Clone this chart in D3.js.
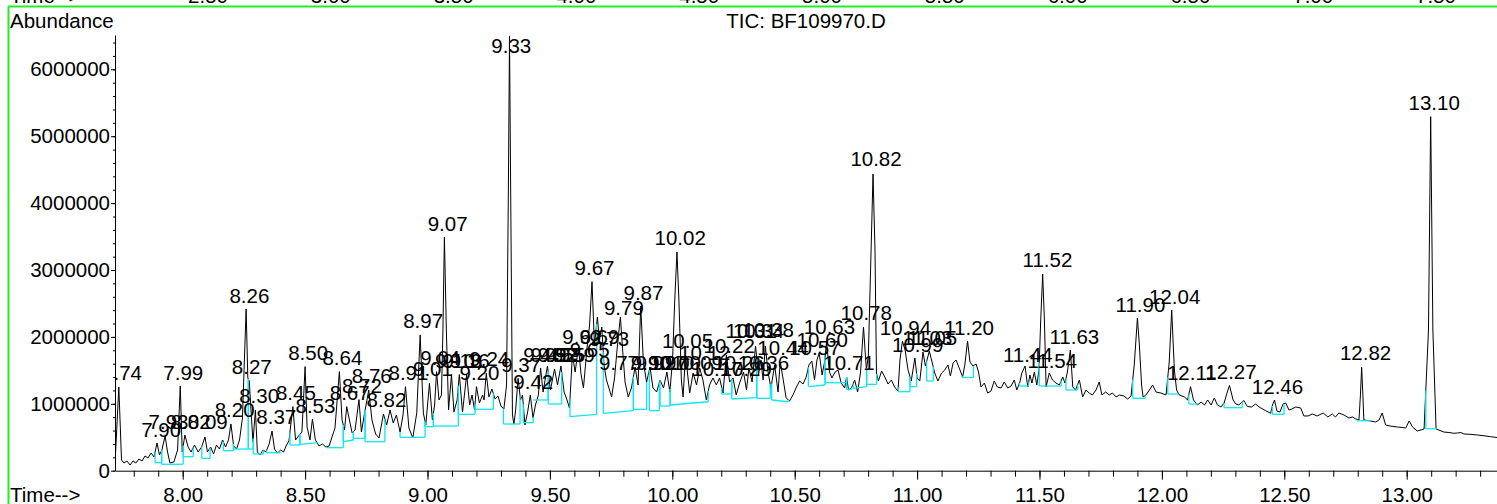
<!DOCTYPE html>
<html>
<head>
<meta charset="utf-8">
<script src="https://cdn.jsdelivr.net/npm/d3@7"></script>
<style>
  body { margin: 0; background: #fff; }
  svg text { font-family: "Liberation Sans", Arial, sans-serif; }
</style>
</head>
<body>
<svg id="chart" width="1497" height="504"></svg>
<script>
const width = 1497;
const height = 504;
const fontSize = 20.5;

const title = "TIC: BF109970.D";

// axis ticks
const yTicks = [0, 1000000, 2000000, 3000000, 4000000, 5000000, 6000000];
const xTicks = [8.0, 8.5, 9.0, 9.5, 10.0, 10.5, 11.0, 11.5, 12.0, 12.5, 13.0];
// tick labels of the panel above, cut off at the top edge
const prevPanelTicks = [2.5, 3.0, 3.5, 4.0, 4.5, 5.0, 5.5, 6.0, 6.5, 7.0, 7.5];

// TIC trace: [minutes, abundance in millions]
const trace = [[7.726,0.280],[7.739,1.251],[7.750,0.160],[7.760,0.115],[7.772,0.145],[7.785,0.085],[7.797,0.145],[7.809,0.115],[7.821,0.175],[7.834,0.145],[7.846,0.220],[7.858,0.190],[7.871,0.265],[7.883,0.205],[7.895,0.414],[7.905,0.235],[7.915,0.309],[7.928,0.519],[7.938,0.280],[7.948,0.115],[7.964,0.130],[7.979,0.309],[7.990,1.266],[7.998,0.280],[8.009,0.534],[8.022,0.354],[8.034,0.280],[8.048,0.384],[8.063,0.280],[8.077,0.354],[8.091,0.504],[8.101,0.280],[8.114,0.354],[8.126,0.250],[8.138,0.384],[8.150,0.324],[8.163,0.459],[8.175,0.354],[8.187,0.459],[8.197,0.698],[8.208,0.369],[8.220,0.324],[8.232,0.459],[8.244,0.788],[8.252,1.655],[8.259,2.417],[8.266,1.386],[8.272,1.341],[8.279,0.907],[8.287,0.429],[8.297,0.907],[8.305,0.280],[8.316,0.235],[8.328,0.309],[8.340,0.280],[8.353,0.399],[8.365,0.593],[8.375,0.324],[8.387,0.265],[8.400,0.309],[8.412,0.280],[8.424,0.384],[8.434,0.444],[8.450,0.958],[8.461,0.459],[8.473,0.519],[8.487,0.578],[8.500,1.556],[8.508,0.653],[8.520,0.459],[8.530,0.773],[8.542,0.459],[8.557,0.369],[8.571,0.399],[8.585,0.354],[8.598,0.369],[8.610,0.504],[8.622,0.638],[8.640,1.481],[8.651,0.758],[8.661,0.608],[8.670,0.958],[8.681,0.758],[8.692,0.564],[8.704,0.608],[8.720,1.063],[8.730,0.578],[8.743,0.862],[8.760,1.206],[8.773,0.758],[8.788,0.549],[8.802,0.489],[8.820,0.848],[8.833,0.683],[8.847,0.907],[8.860,0.713],[8.873,0.833],[8.888,0.578],[8.900,0.833],[8.910,1.257],[8.924,0.638],[8.940,0.489],[8.956,0.862],[8.970,2.028],[8.983,0.862],[8.993,0.683],[9.008,1.306],[9.020,0.758],[9.029,0.982],[9.037,1.481],[9.047,1.057],[9.057,1.132],[9.063,2.103],[9.069,3.493],[9.077,2.103],[9.086,0.907],[9.098,1.437],[9.108,0.877],[9.121,1.057],[9.130,1.437],[9.143,0.877],[9.153,1.206],[9.160,1.437],[9.172,0.982],[9.182,1.132],[9.192,0.907],[9.200,1.257],[9.212,1.012],[9.225,1.132],[9.231,1.057],[9.240,1.456],[9.251,1.102],[9.263,1.221],[9.276,1.072],[9.288,1.117],[9.300,0.967],[9.312,0.922],[9.323,1.281],[9.330,4.046],[9.335,6.500],[9.340,4.046],[9.347,0.833],[9.353,0.698],[9.360,0.907],[9.370,1.381],[9.380,1.057],[9.388,1.132],[9.398,0.683],[9.409,0.877],[9.420,1.132],[9.431,0.788],[9.441,0.982],[9.453,1.132],[9.462,1.535],[9.472,1.176],[9.490,1.565],[9.502,1.206],[9.519,1.520],[9.531,1.281],[9.545,1.565],[9.558,1.176],[9.570,1.057],[9.580,0.937],[9.592,1.744],[9.603,1.475],[9.617,1.849],[9.627,1.445],[9.637,1.236],[9.652,1.849],[9.662,2.178],[9.672,2.825],[9.682,1.879],[9.694,2.298],[9.702,1.954],[9.712,2.148],[9.721,1.580],[9.731,1.356],[9.741,1.236],[9.752,1.102],[9.764,1.386],[9.776,1.879],[9.788,2.298],[9.797,1.804],[9.807,1.326],[9.820,1.102],[9.833,1.236],[9.848,1.550],[9.860,1.281],[9.871,2.462],[9.882,1.610],[9.895,1.326],[9.909,1.550],[9.921,1.236],[9.936,1.176],[9.950,1.356],[9.964,1.236],[9.978,1.475],[9.990,1.176],[10.001,1.655],[10.010,2.552],[10.019,3.269],[10.027,2.552],[10.037,1.356],[10.044,1.102],[10.054,1.729],[10.071,1.161],[10.085,1.460],[10.099,1.281],[10.112,1.535],[10.125,1.356],[10.139,1.057],[10.152,1.281],[10.166,1.386],[10.180,1.281],[10.193,1.386],[10.207,1.161],[10.221,1.729],[10.234,1.326],[10.248,1.386],[10.261,1.132],[10.275,1.311],[10.291,1.475],[10.303,1.206],[10.313,1.535],[10.326,1.326],[10.340,1.864],[10.352,1.431],[10.362,1.655],[10.371,1.356],[10.380,1.864],[10.391,1.475],[10.403,1.236],[10.418,1.580],[10.432,1.176],[10.441,1.625],[10.452,1.386],[10.465,1.087],[10.479,1.042],[10.493,1.132],[10.507,1.251],[10.520,1.341],[10.534,1.296],[10.547,1.401],[10.558,1.580],[10.570,1.640],[10.581,1.356],[10.591,1.655],[10.600,1.759],[10.612,1.431],[10.622,1.625],[10.630,1.924],[10.642,1.475],[10.652,1.386],[10.665,1.475],[10.677,1.505],[10.690,1.311],[10.704,1.236],[10.712,1.401],[10.720,1.206],[10.732,1.236],[10.745,1.356],[10.757,1.176],[10.769,1.475],[10.781,2.148],[10.793,1.505],[10.801,1.729],[10.812,3.299],[10.820,4.435],[10.828,3.299],[10.834,1.460],[10.842,1.341],[10.855,1.490],[10.868,1.401],[10.881,1.296],[10.895,1.356],[10.908,1.251],[10.922,1.191],[10.930,1.655],[10.940,1.939],[10.951,1.804],[10.963,1.505],[10.976,1.341],[10.991,1.685],[11.000,1.386],[11.011,1.341],[11.024,1.774],[11.034,1.565],[11.050,1.789],[11.061,1.625],[11.072,1.460],[11.085,1.341],[11.100,1.460],[11.113,1.505],[11.126,1.580],[11.136,1.416],[11.147,1.610],[11.159,1.655],[11.172,1.535],[11.186,1.401],[11.195,1.580],[11.206,1.939],[11.216,1.625],[11.228,1.565],[11.241,1.595],[11.251,1.475],[11.261,1.251],[11.275,1.311],[11.288,1.161],[11.302,1.191],[11.315,1.341],[11.328,1.251],[11.343,1.236],[11.356,1.326],[11.370,1.236],[11.384,1.266],[11.397,1.356],[11.407,1.206],[11.420,1.326],[11.428,1.460],[11.441,1.565],[11.452,1.251],[11.461,1.431],[11.469,1.311],[11.479,1.475],[11.489,1.281],[11.498,1.505],[11.505,2.253],[11.513,2.940],[11.520,2.253],[11.527,1.251],[11.540,1.460],[11.553,1.356],[11.567,1.311],[11.581,1.281],[11.595,1.401],[11.604,1.311],[11.614,1.475],[11.626,1.804],[11.636,1.251],[11.647,1.206],[11.663,1.356],[11.676,1.102],[11.690,1.206],[11.703,1.161],[11.716,1.132],[11.731,1.206],[11.744,1.326],[11.755,1.132],[11.770,1.176],[11.785,1.132],[11.798,1.161],[11.813,1.102],[11.827,1.132],[11.845,1.117],[11.860,1.072],[11.874,1.117],[11.887,1.580],[11.900,2.283],[11.908,1.879],[11.917,1.281],[11.923,1.102],[11.935,1.132],[11.949,1.206],[11.962,1.281],[11.976,1.176],[11.996,1.161],[12.017,1.132],[12.030,1.625],[12.040,2.402],[12.051,1.505],[12.060,1.206],[12.071,1.132],[12.092,1.102],[12.105,1.057],[12.117,1.257],[12.129,1.057],[12.146,0.982],[12.160,1.027],[12.174,0.982],[12.187,1.057],[12.201,0.982],[12.214,1.087],[12.227,0.982],[12.241,0.952],[12.254,1.012],[12.266,1.161],[12.276,1.274],[12.291,1.057],[12.302,0.997],[12.314,0.982],[12.335,1.049],[12.349,0.960],[12.366,0.952],[12.383,0.997],[12.397,0.952],[12.424,0.897],[12.444,0.858],[12.452,0.982],[12.460,1.057],[12.470,0.892],[12.482,0.877],[12.495,0.997],[12.506,1.012],[12.519,0.907],[12.531,0.922],[12.547,0.952],[12.567,0.937],[12.580,0.818],[12.597,0.818],[12.614,0.848],[12.634,0.818],[12.659,0.862],[12.678,0.803],[12.696,0.848],[12.709,0.803],[12.723,0.862],[12.744,0.833],[12.764,0.788],[12.779,0.803],[12.792,0.773],[12.805,0.758],[12.811,1.132],[12.816,1.546],[12.821,1.132],[12.825,0.758],[12.853,0.743],[12.873,0.728],[12.887,0.758],[12.900,0.862],[12.914,0.683],[12.932,0.668],[12.962,0.653],[12.981,0.646],[12.996,0.638],[13.010,0.743],[13.024,0.653],[13.043,0.593],[13.071,0.623],[13.089,2.103],[13.098,5.293],[13.107,2.103],[13.120,0.623],[13.136,0.601],[13.152,0.578],[13.173,0.571],[13.193,0.559],[13.208,0.564],[13.221,0.571],[13.234,0.549],[13.259,0.544],[13.288,0.534],[13.316,0.522],[13.343,0.508],[13.369,0.496]];

// integrated peaks: retention time and apex height (millions)
const peakTimes = [7.74,7.90,7.93,7.99,8.02,8.09,8.20,8.26,8.27,8.30,8.37,8.45,8.50,8.53,8.64,8.67,8.72,8.76,8.82,8.91,8.97,9.01,9.04,9.07,9.10,9.13,9.16,9.20,9.24,9.33,9.37,9.42,9.46,9.49,9.52,9.55,9.59,9.62,9.65,9.67,9.69,9.73,9.77,9.79,9.87,9.90,9.92,9.97,10.00,10.02,10.05,10.09,10.12,10.17,10.22,10.26,10.29,10.31,10.34,10.36,10.38,10.44,10.57,10.60,10.63,10.71,10.78,10.82,10.94,10.99,11.03,11.05,11.20,11.44,11.52,11.54,11.63,11.90,12.04,12.11,12.27,12.46,12.82,13.10];
const peakHeights = [1.25,0.41,0.53,1.26,0.53,0.53,0.71,2.41,1.34,0.92,0.60,0.96,1.56,0.77,1.48,0.96,1.06,1.21,0.85,1.26,2.03,1.31,1.48,3.49,1.44,1.44,1.44,1.26,1.46,6.50,1.38,1.13,1.53,1.53,1.53,1.53,1.53,1.80,1.60,2.83,1.80,1.77,1.41,2.23,2.45,1.41,1.41,1.41,1.41,3.27,1.73,1.41,1.55,1.31,1.66,1.41,1.31,1.88,1.88,1.41,1.90,1.63,1.63,1.75,1.95,1.41,2.15,4.45,1.93,1.68,1.78,1.78,1.93,1.53,2.94,1.43,1.80,2.28,2.40,1.26,1.27,1.05,1.55,5.29];

// integration baselines: [start time, start level, end time, end level] (millions)
const baselines = [[7.887,0.120,7.914,0.120],[7.914,0.096,8.002,0.096],[8.002,0.209,8.043,0.209],[8.078,0.185,8.112,0.185],[8.166,0.299,8.207,0.299],[8.207,0.324,8.268,0.324],[8.268,0.324,8.288,0.324],[8.288,0.250,8.329,0.250],[8.343,0.269,8.397,0.269],[8.438,0.384,8.479,0.384],[8.479,0.395,8.554,0.419],[8.588,0.344,8.656,0.344],[8.656,0.433,8.697,0.459],[8.697,0.484,8.745,0.484],[8.745,0.433,8.826,0.433],[8.888,0.499,8.990,0.499],[8.990,0.658,9.024,0.658],[9.024,0.668,9.126,0.668],[9.126,0.843,9.194,0.843],[9.194,0.918,9.269,0.918],[9.310,0.698,9.378,0.698],[9.391,0.718,9.432,0.718],[9.432,1.057,9.493,1.057],[9.493,0.997,9.548,0.997],[9.582,0.807,9.691,0.843],[9.718,0.858,9.841,0.897],[9.841,0.918,9.895,0.918],[9.906,0.897,9.947,0.897],[9.950,0.967,9.991,0.967],[9.991,0.982,10.147,1.031],[10.202,1.147,10.243,1.147],[10.243,1.072,10.345,1.091],[10.345,1.082,10.400,1.082],[10.406,1.057,10.474,1.031],[10.556,1.256,10.624,1.281],[10.624,1.315,10.712,1.315],[10.712,1.217,10.733,1.217],[10.739,1.232,10.794,1.256],[10.794,1.291,10.835,1.291],[10.923,1.181,10.971,1.181],[10.971,1.256,10.998,1.256],[11.039,1.341,11.066,1.341],[11.184,1.393,11.230,1.393],[11.418,1.266,11.456,1.266],[11.499,1.266,11.588,1.266],[11.608,1.206,11.656,1.206],[11.881,1.082,11.932,1.082],[12.024,1.147,12.069,1.147],[12.110,0.997,12.150,0.997],[12.254,0.942,12.328,0.942],[12.451,0.843,12.499,0.843],[12.798,0.747,12.853,0.747],[13.078,0.628,13.123,0.628]];

const svg = d3.select("#chart");

const x = d3.scaleLinear().domain([7.7234, 13.3689]).range([115, 1497]);
const y = d3.scaleLinear().domain([0, 6513000]).range([470.7, 35]);
const M = 1e6;

// frame of the report page
const green = "#22ee22";
svg.append("line").attr("x1", 8).attr("x2", width).attr("y1", 6.5).attr("y2", 6.5)
  .attr("stroke", green).attr("stroke-width", 2);
svg.append("line").attr("x1", 8.5).attr("x2", 8.5).attr("y1", 6.5).attr("y2", height)
  .attr("stroke", green).attr("stroke-width", 2);

// bits of the panel above that are cut off by the top edge
const prevX = d3.scaleLinear().domain([2.5, 7.5]).range([208, 1436]);
svg.append("text").attr("x", 10).attr("y", 3).attr("font-size", fontSize).text("Time-->");
svg.append("g").selectAll("text").data(prevPanelTicks).join("text")
  .attr("x", d => prevX(d)).attr("y", 3).attr("text-anchor", "middle")
  .attr("font-size", fontSize).text(d => d3.format(".2f")(d));

svg.append("text").attr("x", 10).attr("y", 28).attr("font-size", fontSize).text("Abundance");
svg.append("text").attr("x", 806).attr("y", 28).attr("font-size", fontSize)
  .attr("text-anchor", "middle").text(title);
svg.append("text").attr("x", 10).attr("y", 502).attr("font-size", fontSize).text("Time-->");

// axes
const xMinor = d3.range(7.8, 13.35, 0.1).map(d => Math.round(d * 10) / 10);
svg.append("g").attr("transform", "translate(0,470.7)")
  .call(d3.axisBottom(x).tickValues(xMinor).tickSize(6).tickSizeOuter(0).tickFormat(""))
  .call(g => g.select(".domain").attr("stroke", "#000"));
svg.append("g").attr("transform", "translate(0,470.7)")
  .call(d3.axisBottom(x).tickValues(xTicks).tickSize(9).tickPadding(8).tickSizeOuter(0)
    .tickFormat(d3.format(".2f")))
  .call(g => g.select(".domain").remove())
  .call(g => g.selectAll("text").attr("font-size", fontSize)
    .attr("font-family", "Liberation Sans, Arial, sans-serif").attr("fill", "#000"));

const yMinor = d3.range(0, 6500001, 200000);
svg.append("g").attr("transform", "translate(115,0)")
  .call(d3.axisLeft(y).tickValues(yMinor).tickSize(2).tickSizeOuter(0).tickFormat(""))
  .call(g => g.select(".domain").attr("stroke", "#000"));
svg.append("g").attr("transform", "translate(115,0)")
  .call(d3.axisLeft(y).tickValues(yTicks).tickSize(4).tickPadding(1).tickSizeOuter(0)
    .tickFormat(d3.format("d")))
  .call(g => g.select(".domain").remove())
  .call(g => g.selectAll("text").attr("font-size", fontSize)
    .attr("font-family", "Liberation Sans, Arial, sans-serif").attr("fill", "#000"));

// plot area clip
svg.append("clipPath").attr("id", "plot")
  .append("rect").attr("x", 116).attr("y", 0).attr("width", width - 116).attr("height", 471);

const plot = svg.append("g").attr("clip-path", "url(#plot)");

plot.append("path")
  .datum(trace)
  .attr("fill", "none")
  .attr("stroke", "#000")
  .attr("stroke-width", 1)
  .attr("stroke-linejoin", "round")
  .attr("d", d3.line().x(d => x(d[0])).y(d => y(d[1] * M)));

// signal level at a given time, for the drop lines
const bis = d3.bisector(d => d[0]).left;
function signalAt(t) {
  const i = Math.max(1, Math.min(trace.length - 1, bis(trace, t)));
  const a = trace[i - 1], b = trace[i];
  const f = (t - a[0]) / (b[0] - a[0]);
  return a[1] + f * (b[1] - a[1]);
}

const cyan = "#10e6ee";
plot.append("g").selectAll("line").data(baselines).join("line")
  .attr("x1", d => x(d[0])).attr("y1", d => y(d[1] * M))
  .attr("x2", d => x(d[2])).attr("y2", d => y(d[3] * M))
  .attr("stroke", cyan).attr("stroke-width", 1.3);

const drops = baselines.flatMap(d => [[d[0], d[1]], [d[2], d[3]]])
  .map(([t, b]) => [t, b, Math.max(b, signalAt(t))]);
plot.append("g").selectAll("line").data(drops).join("line")
  .attr("x1", d => x(d[0])).attr("x2", d => x(d[0]))
  .attr("y1", d => y(d[1] * M)).attr("y2", d => y(d[2] * M))
  .attr("stroke", cyan).attr("stroke-width", 1.3);

// retention time labels
plot.append("g").selectAll("text").data(peakTimes).join("text")
  .attr("x", d => x(d) + 3)
  .attr("y", (d, i) => Math.max(y(peakHeights[i] * M) - 6.6, 53))
  .attr("text-anchor", "middle")
  .attr("font-size", fontSize)
  .attr("fill", "#000")
  .text(d => d3.format(".2f")(d));
</script>
</body>
</html>
